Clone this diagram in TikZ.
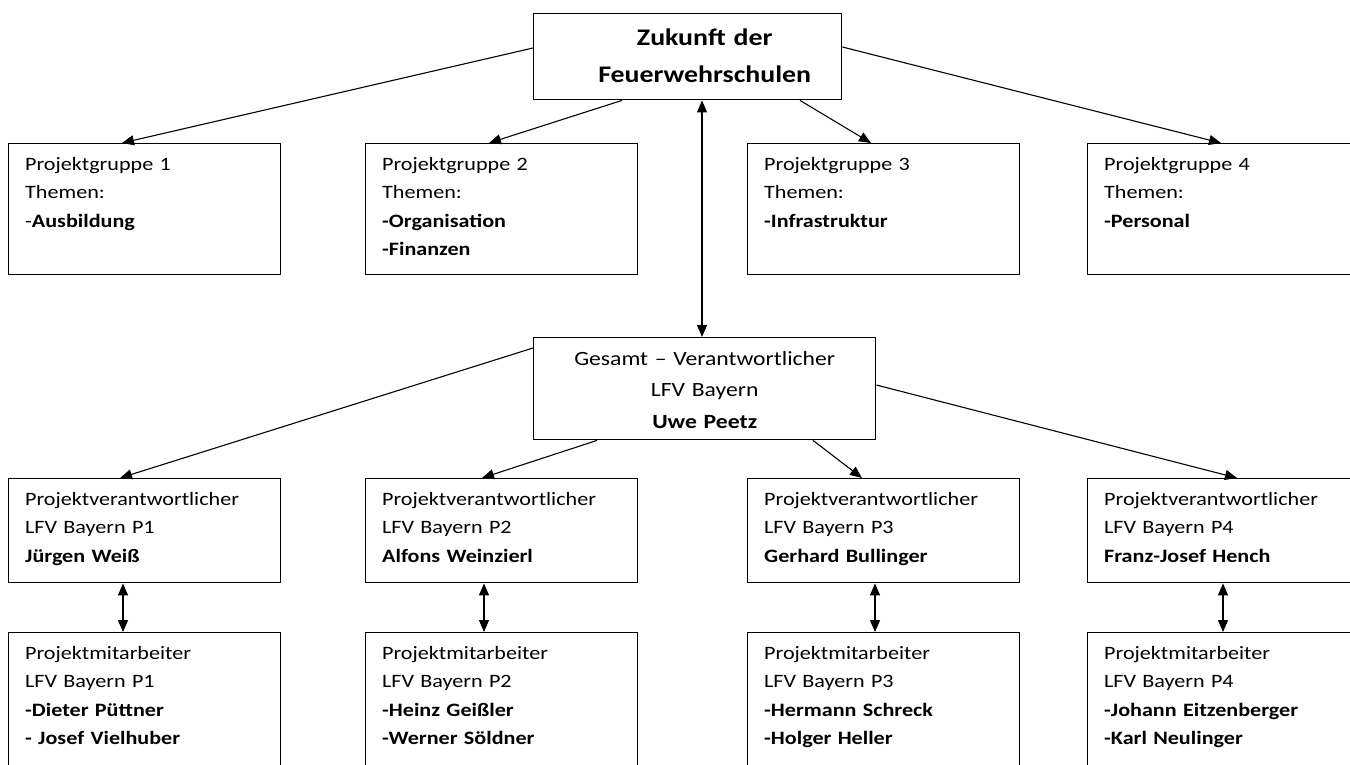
\documentclass[tikz,border=0pt]{standalone}
\usepackage{fontspec}
\setmainfont{Carlito}[FakeStretch=1.17]
\usetikzlibrary{arrows.meta,calc}
\begin{document}
\begin{tikzpicture}[x=1pt,y=-1pt,
  box/.style={draw, line width=1.4pt, inner sep=0pt, anchor=north west},
  rowA/.style={box, minimum width=272pt, minimum height=131pt},
  rowB/.style={box, minimum width=272pt, minimum height=104pt},
  rowC/.style={box, minimum width=272pt, minimum height=150pt},
  txt/.style={anchor=base west, inner sep=0pt, text width=255pt, align=left, font=\fontsize{18.9}{28.5}\selectfont},
  ctxt/.style={anchor=base, inner sep=0pt, text width=330pt, align=center},
  arr/.style={line width=1.1pt, -{Triangle[length=12pt,width=10pt]}},
  darr/.style={line width=1.1pt, {Triangle[length=12pt,width=10pt]}-{Triangle[length=12pt,width=10pt]}}]
\clip (0,0) rectangle (1350,764);
\fill[white] (0,0) rectangle (1350,764);

% top
\node[box, minimum width=308pt, minimum height=86pt] (T) at (533,13) {};
\node[ctxt, font=\bfseries\fontsize{23.8}{37}\selectfont] (Tt) at ($(T.north)+(17,32)$) {Zukunft der\\Feuerwehrschulen};

% row A
\node[rowA] (P1) at (8,143) {};
\node[rowA] (P2) at (365,143) {};
\node[rowA] (P3) at (747,143) {};
\node[rowA] (P4) at (1087,143) {};
\node[txt] (P1t) at ($(P1.north west)+(17,27)$) {Projektgruppe 1\\Themen:\\-\textbf{Ausbildung}};
\node[txt] (P2t) at ($(P2.north west)+(17,27)$) {Projektgruppe 2\\Themen:\\\textbf{-Organisation}\\\textbf{-Finanzen}};
\node[txt] (P3t) at ($(P3.north west)+(17,27)$) {Projektgruppe 3\\Themen:\\\textbf{-Infrastruktur}};
\node[txt] (P4t) at ($(P4.north west)+(17,27)$) {Projektgruppe 4\\Themen:\\\textbf{-Personal}};

% G
\node[box, minimum width=342pt, minimum height=102pt] (G) at (533,337) {};
\node[ctxt, font=\fontsize{20.2}{31.5}\selectfont] (Gt) at ($(G.north)+(0,28)$) {Gesamt -- Verantwortlicher\\LFV Bayern\\\textbf{Uwe Peetz}};

% row B
\node[rowB] (R1) at (8,478) {};
\node[rowB] (R2) at (365,478) {};
\node[rowB] (R3) at (747,478) {};
\node[rowB] (R4) at (1087,478) {};
\node[txt] (R1t) at ($(R1.north west)+(17,27)$) {Projektverantwortlicher\\LFV Bayern P1\\\textbf{Jürgen Weiß}};
\node[txt] (R2t) at ($(R2.north west)+(17,27)$) {Projektverantwortlicher\\LFV Bayern P2\\\textbf{Alfons Weinzierl}};
\node[txt] (R3t) at ($(R3.north west)+(17,27)$) {Projektverantwortlicher\\LFV Bayern P3\\\textbf{Gerhard Bullinger}};
\node[txt] (R4t) at ($(R4.north west)+(17,27)$) {Projektverantwortlicher\\LFV Bayern P4\\\textbf{Franz-Josef Hench}};

% row C
\node[rowC] (M1) at (8,632) {};
\node[rowC] (M2) at (365,632) {};
\node[rowC] (M3) at (747,632) {};
\node[rowC] (M4) at (1087,632) {};
\node[txt] (M1t) at ($(M1.north west)+(17,27)$) {Projektmitarbeiter\\LFV Bayern P1\\\textbf{-Dieter Püttner}\\\textbf{- Josef Vielhuber}};
\node[txt] (M2t) at ($(M2.north west)+(17,27)$) {Projektmitarbeiter\\LFV Bayern P2\\\textbf{-Heinz Geißler}\\\textbf{-Werner Söldner}};
\node[txt] (M3t) at ($(M3.north west)+(17,27)$) {Projektmitarbeiter\\LFV Bayern P3\\\textbf{-Hermann Schreck}\\\textbf{-Holger Heller}};
\node[txt] (M4t) at ($(M4.north west)+(17,27)$) {Projektmitarbeiter\\LFV Bayern P4\\\textbf{-Johann Eitzenberger}\\\textbf{-Karl Neulinger}};

% connectors from T
\draw[arr] ($(T.north west)+(0,35)$) -- ($(P1.north west)+(114,0)$);
\draw[arr] ($(T.south west)+(89,0)$) -- ($(P2.north west)+(124,0)$);
\draw[arr] ($(T.south west)+(267,0)$) -- ($(P3.north west)+(124,0)$);
\draw[arr] ($(T.north east)+(0,34)$) -- ($(P4.north west)+(134,0)$);
\draw[darr] ($(T.south west)+(169,0)$) -- ($(G.north west)+(169,0)$);

% connectors from G
\draw[arr] ($(G.north west)+(0,11)$) -- ($(R1.north west)+(112,0)$);
\draw[arr] ($(G.south west)+(64,0)$) -- ($(R2.north west)+(117,0)$);
\draw[arr] ($(G.south west)+(280,0)$) -- ($(R3.north west)+(115,0)$);
\draw[arr] ($(G.north east)+(0,48)$) -- ($(R4.north west)+(150,0)$);

% vertical double arrows
\draw[darr] ($(R1.south west)+(115,0)$) -- ($(M1.north west)+(115,0)$);
\draw[darr] ($(R2.south west)+(119,0)$) -- ($(M2.north west)+(119,0)$);
\draw[darr] ($(R3.south west)+(128,0)$) -- ($(M3.north west)+(128,0)$);
\draw[darr] ($(R4.south west)+(136,0)$) -- ($(M4.north west)+(136,0)$);
\end{tikzpicture}
\end{document}
